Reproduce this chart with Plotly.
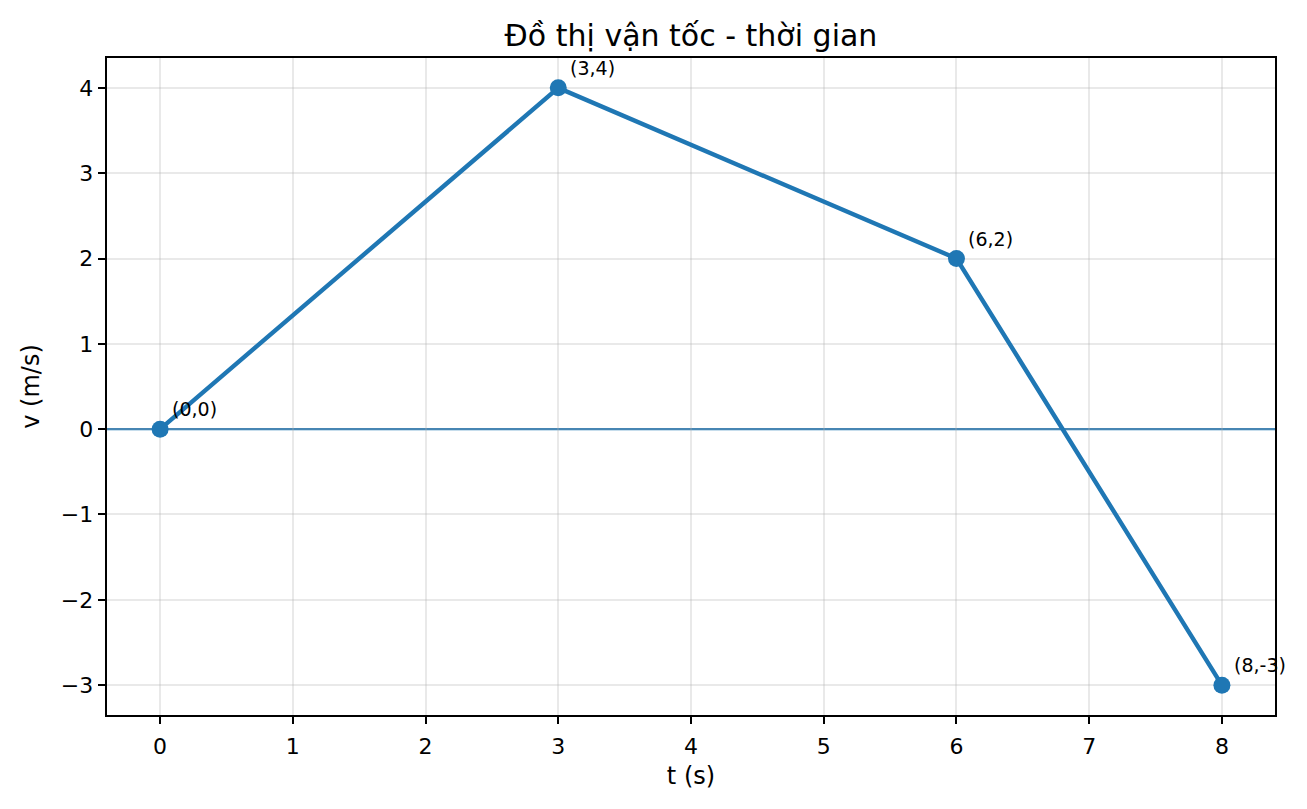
import plotly.graph_objects as go

t_values = [0, 3, 6, 8]
v_values = [0, 4, 2, -3]
point_labels = ["(0,0)", "(3,4)", "(6,2)", "(8,-3)"]

C0 = "#1f77b4"
FONT = "DejaVu Sans"

fig = go.Figure()
fig.add_hline(y=0, line=dict(color=C0, width=2.2), layer="below")
fig.add_trace(go.Scatter(
    x=t_values, y=v_values, mode="lines+markers",
    line=dict(color=C0, width=4.4),
    marker=dict(color=C0, size=17),
    cliponaxis=False, showlegend=False, hoverinfo="skip",
))

for tx, vy, lab in zip(t_values, v_values, point_labels):
    fig.add_annotation(
        x=tx, y=vy, text=lab, showarrow=False,
        xanchor="left", yanchor="bottom", xshift=10, yshift=7,
        font=dict(family=FONT, size=19, color="black"),
    )

axis_common = dict(
    showline=True, linecolor="black", linewidth=1.8, mirror=True,
    ticks="outside", ticklen=7.5, tickwidth=1.8, tickcolor="black",
    showgrid=True, gridcolor="rgba(176,176,176,0.28)", gridwidth=1.8,
    zeroline=False, dtick=1,
    tickfont=dict(family=FONT, size=22, color="black"),
)

fig.update_layout(
    width=1307, height=809,
    margin=dict(l=99, r=40, t=50, b=102),
    paper_bgcolor="white", plot_bgcolor="white",
    title=dict(
        text="Đồ thị vận tốc - thời gian",
        x=0.5, xref="paper", xanchor="center",
        y=1, yref="paper", yanchor="bottom", pad=dict(b=12),
        font=dict(family=FONT, size=30, color="black"),
    ),
    xaxis=dict(axis_common, range=[-0.4, 8.4], ticklabelstandoff=3,
               title=dict(text="t (s)", standoff=9,
                          font=dict(family=FONT, size=24, color="black"))),
    yaxis=dict(axis_common, range=[-3.35, 4.35],
               title=dict(text="v (m/s)", standoff=14,
                          font=dict(family=FONT, size=24, color="black"))),
)

fig.write_html("out.html")
